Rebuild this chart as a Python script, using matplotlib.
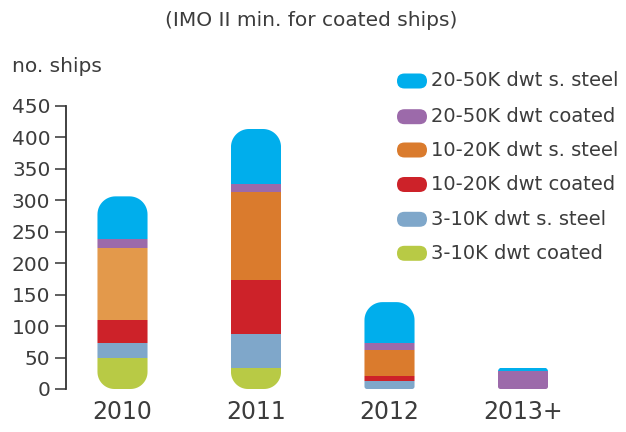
import matplotlib
matplotlib.use("Agg")
import matplotlib.pyplot as plt
from matplotlib.patches import FancyBboxPatch, PathPatch
from matplotlib.path import Path
import numpy as np

# ---- data ----
years = ["2010", "2011", "2012", "2013+"]
series = ["3-10K dwt coated", "3-10K dwt s. steel", "10-20K dwt coated",
          "10-20K dwt s. steel", "20-50K dwt coated", "20-50K dwt s. steel"]
coated_3_10 = [49, 34, 0, 0]
steel_3_10 = [24, 53, 13, 0]
coated_10_20 = [37, 86, 7, 0]
steel_10_20 = [114, 140, 42, 0]
coated_20_50 = [14, 13, 11, 29]
steel_20_50 = [68, 87, 65, 5]
values = [coated_3_10, steel_3_10, coated_10_20, steel_10_20, coated_20_50, steel_20_50]
yticks = [0, 50, 100, 150, 200, 250, 300, 350, 400, 450]

colors = ["#B8CA45", "#7FA7CA", "#CD2229", "#DA7B2D", "#9C6AAA", "#00AEEC"]
orange_2010 = "#E3994B"
txt = "#3c3c3c"

plt.rcParams["font.family"] = ["DejaVu Sans"]

fig = plt.figure(figsize=(6.26, 4.32), dpi=100)
ax = fig.add_axes([65.7 / 626, 43 / 432, 534 / 626, 283.3 / 432])
x = np.arange(len(years))
xl = (65.7 - 122.5) / 133.5
ax.set_xlim(xl, xl + 534 / 133.5)
ax.set_ylim(0, 450)
fig.canvas.draw()

p0 = ax.transData.transform((0, 0))
p1 = ax.transData.transform((1, 1))
pxx = p1[0] - p0[0]
pxy = p1[1] - p0[1]


def rounded_bar_path(x0, x1, y0, y1, rt, rb):
    """rounded rectangle in data coords; radii given in pixels"""
    pts = []
    n = 16
    # bottom-left corner to bottom-right
    rbx, rby = rb / pxx, rb / pxy
    rtx, rty = rt / pxx, rt / pxy
    for t in np.linspace(np.pi, 1.5 * np.pi, n):
        pts.append((x0 + rbx + rbx * np.cos(t), y0 + rby + rby * np.sin(t)))
    for t in np.linspace(1.5 * np.pi, 2 * np.pi, n):
        pts.append((x1 - rbx + rbx * np.cos(t), y0 + rby + rby * np.sin(t)))
    for t in np.linspace(0, 0.5 * np.pi, n):
        pts.append((x1 - rtx + rtx * np.cos(t), y1 - rty + rty * np.sin(t)))
    for t in np.linspace(0.5 * np.pi, np.pi, n):
        pts.append((x0 + rtx + rtx * np.cos(t), y1 - rty + rty * np.sin(t)))
    pts.append(pts[0])
    codes = [Path.MOVETO] + [Path.LINETO] * (len(pts) - 2) + [Path.CLOSEPOLY]
    return Path(pts, codes)


width = 0.375
totals = np.sum(values, axis=0)
for i in range(len(years)):
    h_px = totals[i] * pxy
    rt = 18 if h_px > 40 else 4
    first = next(v[i] for v in values if v[i] > 0)
    rb = 17 if first * pxy > 20 else 2.5
    path = rounded_bar_path(x[i] - width / 2, x[i] + width / 2, 0, totals[i], rt, rb)
    clip = PathPatch(path, transform=ax.transData, facecolor="none", edgecolor="none")
    ax.add_patch(clip)
    bottom = 0
    for k, vals in enumerate(values):
        c = colors[k]
        if k == 3 and i == 0:
            c = orange_2010
        if vals[i] > 0:
            b = ax.bar(x[i], vals[i], width, bottom=bottom, color=c, linewidth=0)
            b[0].set_clip_path(clip)
        bottom += vals[i]

for s in ["top", "right", "bottom"]:
    ax.spines[s].set_visible(False)
ax.spines["left"].set_color("#333333")
ax.spines["left"].set_linewidth(1.3)
ax.set_yticks(yticks)
ax.set_yticklabels([str(t) for t in yticks])
ax.tick_params(axis="y", length=8, width=1.1, color="#333333", labelsize=14.5,
               labelcolor=txt, pad=3)
ax.set_xticks(x)
ax.set_xticklabels(years)
ax.tick_params(axis="x", length=0, labelsize=17, labelcolor=txt, pad=8)

fig.text(311 / 626, 1 - 20 / 432, "(IMO II min. for coated ships)", ha="center",
         va="center", fontsize=14.5, color=txt)
fig.text(12 / 626, 1 - 66 / 432, "no. ships", ha="left", va="center",
         fontsize=14.5, color=txt)

# legend
rows_y = [81, 116.7, 150, 184.5, 219.3, 253.3]
for j, k in enumerate(range(len(series) - 1, -1, -1)):
    yy = 1 - rows_y[j] / 432
    pill = FancyBboxPatch((397 / 626, yy - 7.5 / 432), 30 / 626, 15 / 432,
                          boxstyle=f"round,pad=0,rounding_size={7.5/626}",
                          mutation_aspect=626 / 432, transform=fig.transFigure,
                          facecolor=colors[k], edgecolor="none")
    fig.patches.append(pill)
    fig.text(431 / 626, yy, series[k], ha="left", va="center", fontsize=14,
             color=txt)

fig.savefig("out.png", dpi=100)
